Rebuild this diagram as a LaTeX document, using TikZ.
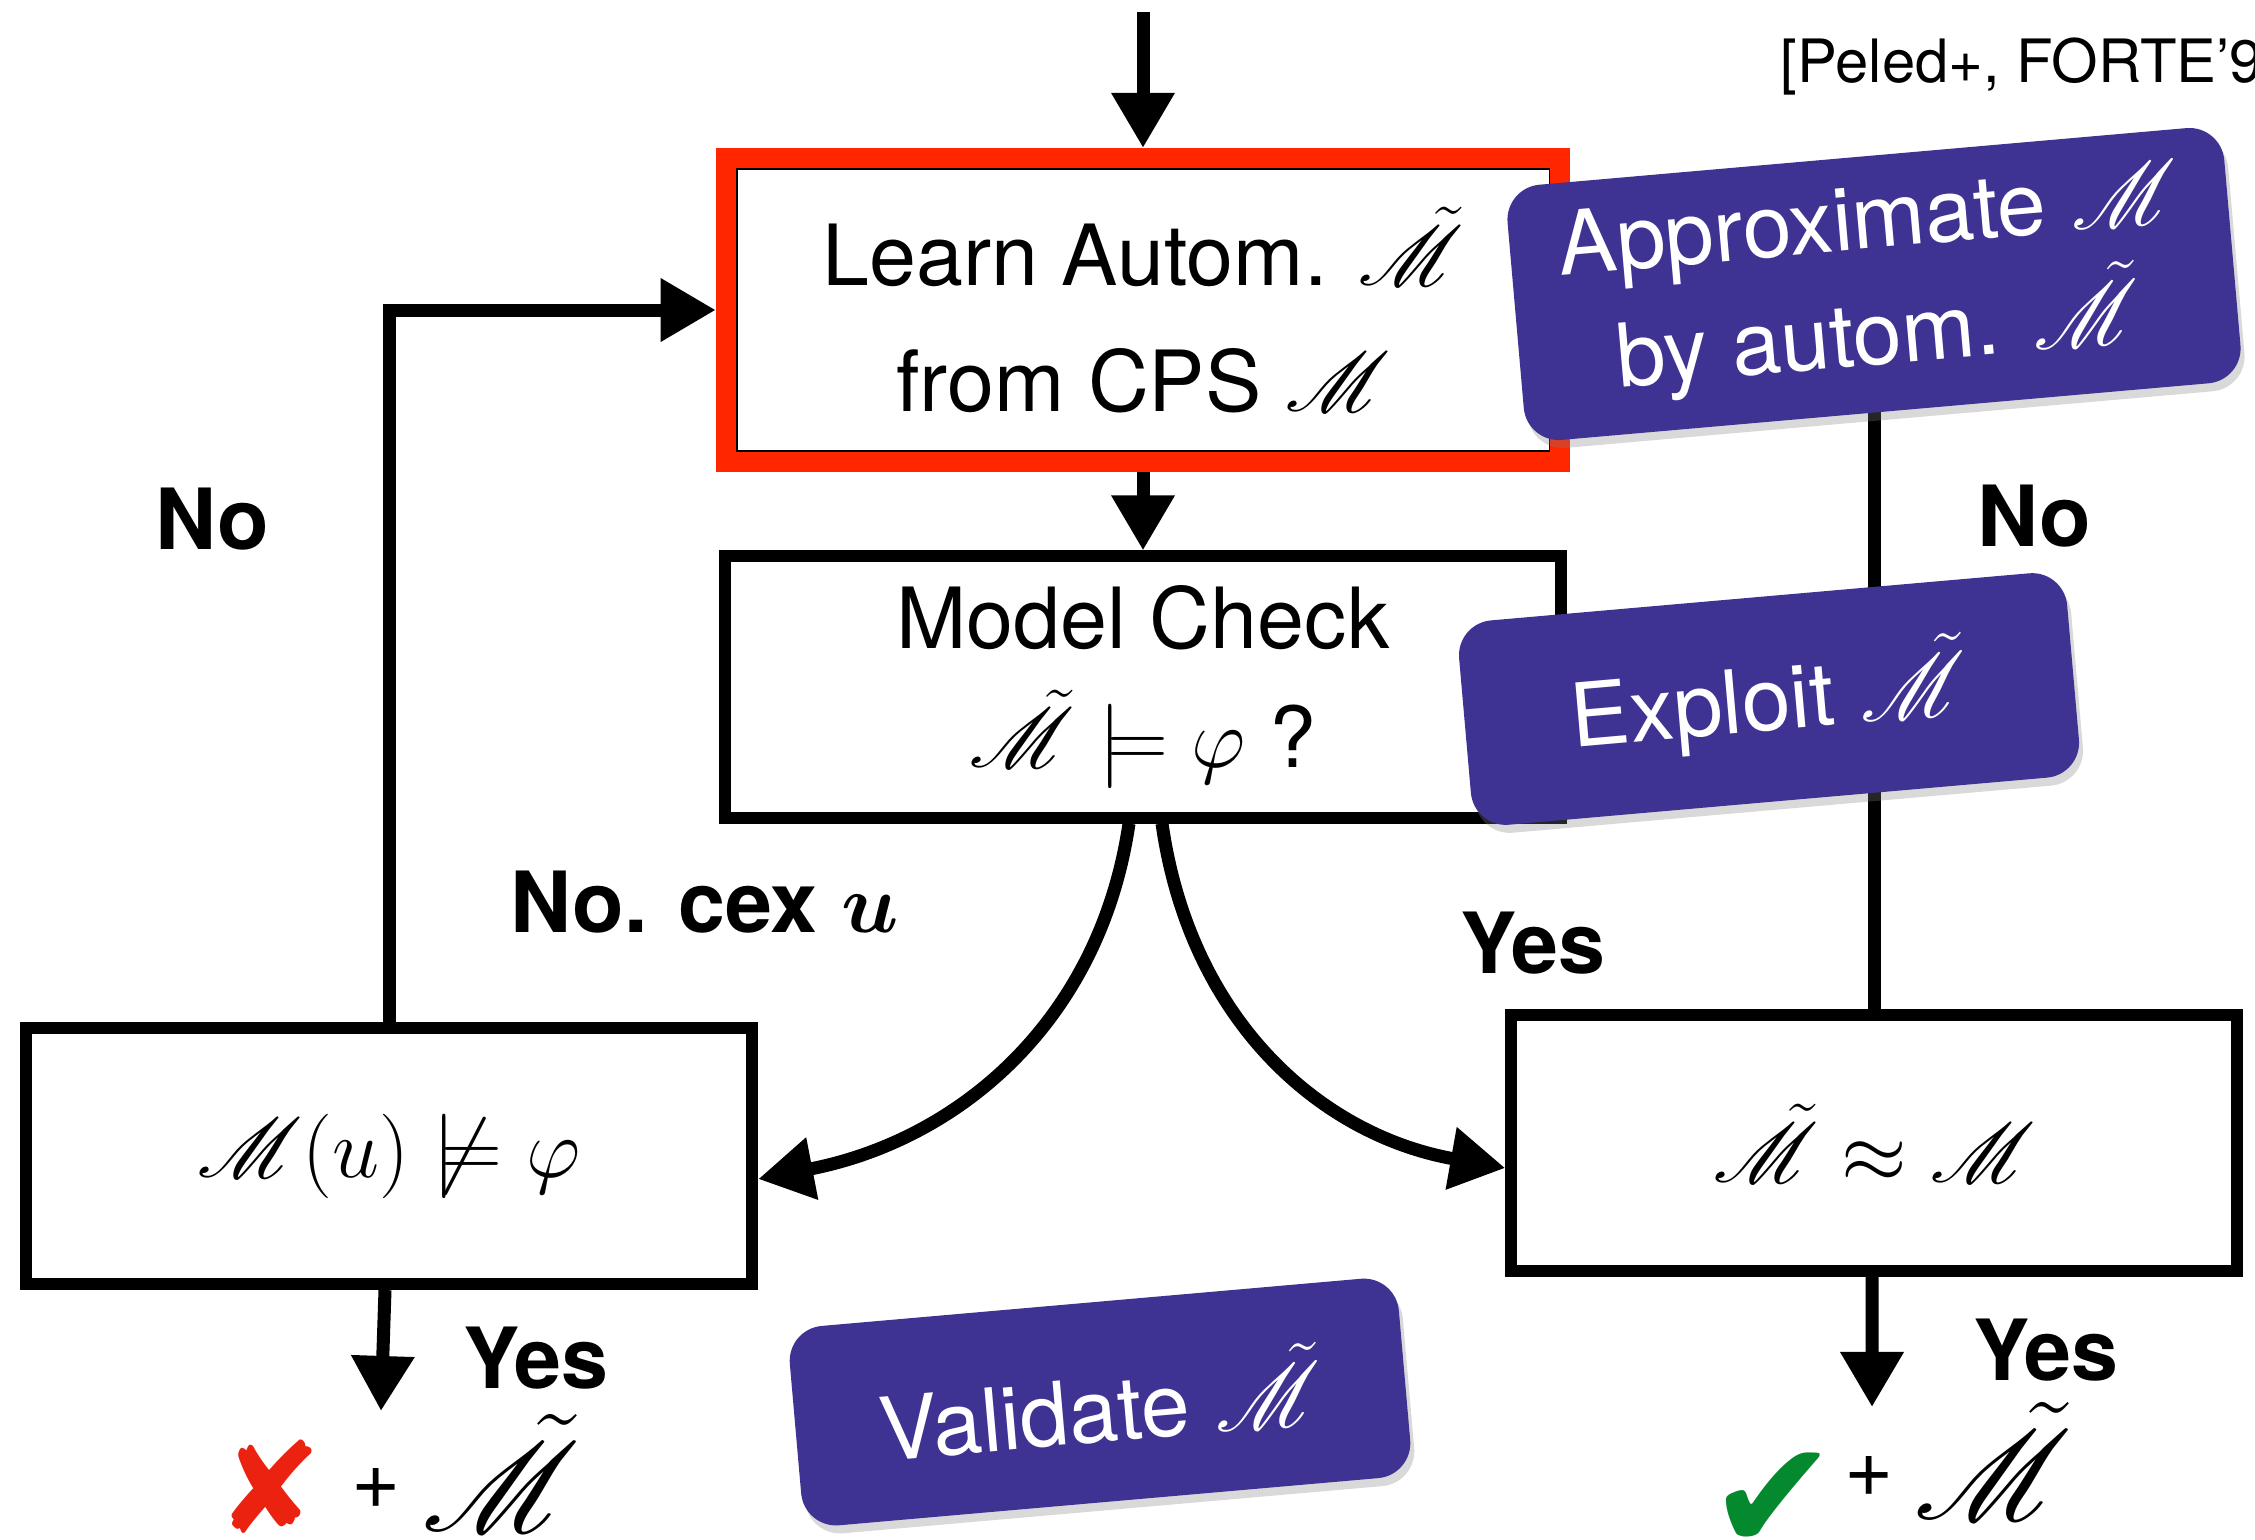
\RequirePackage{fix-cm}
\documentclass[tikz,border=0pt]{standalone}
\usepackage{fontspec}
\setmainfont{TeX Gyre Heros}
\newfontfamily\dingfont{DejaVu Sans}
\usepackage{mathrsfs}
\usepackage{bm}
\DeclareFontFamily{U}{rsfs}{\skewchar\font127 }
\DeclareFontShape{U}{rsfs}{m}{n}{<-6> rsfs5 <6-8> rsfs7 <8-> rsfs10}{}
\usetikzlibrary{arrows.meta,shadows}

\definecolor{tagpurple}{RGB}{62,51,146}
\definecolor{alertred}{RGB}{255,38,0}
\definecolor{crossred}{RGB}{236,34,17}
\definecolor{tickgreen}{RGB}{5,137,46}

\newcommand{\Msys}{\mathscr{M}}
\newcommand{\Maut}{\tilde{\mathscr{M}}}

\begin{document}
\begin{tikzpicture}[x=0.01cm, y=-0.01cm,
  every node/.style={inner sep=0pt},
  flowbox/.style={draw=black, line width=0.12cm, fill=white, align=center,
    font=\fontsize{24}{34}\selectfont},
  learnbox/.style={flowbox, draw=alertred, line width=0.2cm,
    font=\fontsize{24}{36}\selectfont,
    drop shadow={opacity=0.25, shadow xshift=0.03cm, shadow yshift=-0.06cm}},
  conn/.style={line width=0.13cm, -{Triangle[length=0.55cm,width=0.6cm]}},
  edgetext/.style={font=\fontsize{24}{28}\selectfont\bfseries, anchor=base west},
  tag/.style={fill=tagpurple, text=white, rounded corners=0.35cm, rotate=5,
    align=center, font=\fontsize{25}{33}\selectfont,
    drop shadow={opacity=0.3, shadow xshift=0.04cm, shadow yshift=-0.08cm}},
]
\useasboundingbox (0,0) rectangle (2255,1539);
\clip (0,0) rectangle (2255,1539);

% citation
\node[anchor=base west, font=\fontsize{17}{20}\selectfont] (cite) at (1780,82) {[Peled+, FORTE’9};

% flow boxes
\node[learnbox, minimum width=8.34cm, minimum height=3.04cm] (learn) at (1143,310)
  {Learn Autom. $\Maut$\\from CPS $\Msys$};
\draw[line width=0.015cm] ([shift={(0.21cm,-0.21cm)}]learn.north west)
  rectangle ([shift={(-0.21cm,0.21cm)}]learn.south east);
\node[flowbox, minimum width=8.36cm, minimum height=2.61cm] (check) at (1143,687)
  {Model Check\\$\Maut \models \varphi$ ?};
\node[flowbox, minimum width=7.26cm, minimum height=2.56cm] (cex) at (389,1156)
  {$\Msys(u) \not\models \varphi$};
\node[flowbox, minimum width=7.25cm, minimum height=2.56cm] (approx) at (1874,1143)
  {$\Maut \approx \Msys$};

% connectors
\coordinate (entry) at (1143,12);
\draw[conn] (entry) -- (learn.north);
\draw[conn] (learn.south) -- (check.north);
\draw[conn] (cex.north) |- (learn.west);
\draw[conn] (approx.north) |- (learn.east);
\draw[conn] ([xshift=-0.14cm]check.south) .. controls (1100,1020) and (960,1140) .. ([yshift=-0.23cm]cex.east);
\draw[conn] ([xshift=0.19cm]check.south) .. controls (1190,1020) and (1320,1135) .. ([yshift=-0.25cm]approx.west);
\coordinate (failEnd) at (381,1411);
\coordinate (passEnd) at (1872,1407);
\draw[conn] ([xshift=-0.04cm]cex.south) -- (failEnd);
\draw[conn] ([xshift=-0.02cm]approx.south) -- (passEnd);

% branch labels
\node[edgetext] (noLeft) at (155,549) {No};
\node[edgetext] (noRight) at (1977,546) {No};
\node[edgetext] (cexLabel) at (510,932) {No. cex $\bm{u}$};
\node[edgetext] (yesMid) at (1460,973) {Yes};
\node[edgetext] (yesLeft) at (463,1388) {Yes};
\node[edgetext] (yesRight) at (1973,1380) {Yes};

% outcomes
\node[font=\dingfont\fontsize{36}{36}\selectfont, text=crossred] (failMark) at (270,1487) {✘};
\node[font=\fontsize{24}{24}\selectfont] (failPlus) at (376,1488) {+};
\node[anchor=north west, font=\fontsize{36}{40}\selectfont] (failModel) at (422,1414) {$\Maut$};
\node[anchor=north west, font=\dingfont\fontsize{44}{44}\selectfont, text=tickgreen] (passMark) at (1708,1452) {✔};
\node[font=\fontsize{24}{24}\selectfont] (passPlus) at (1869,1476) {+};
\node[anchor=north west, font=\fontsize{36}{40}\selectfont] (passModel) at (1914,1402) {$\Maut$};

% purple tags
\node[tag, minimum width=7.19cm, minimum height=2.56cm] (approxTag) at (1874,284)
  {Approximate $\Msys$\\by autom. $\Maut$};
\node[tag, minimum width=6.1cm, minimum height=2.05cm] (exploitTag) at (1769,699)
  {Exploit $\Maut$};
\node[tag, minimum width=6.11cm, minimum height=2.0cm] (validateTag) at (1100,1402)
  {Validate $\Maut$};
\end{tikzpicture}
\end{document}
